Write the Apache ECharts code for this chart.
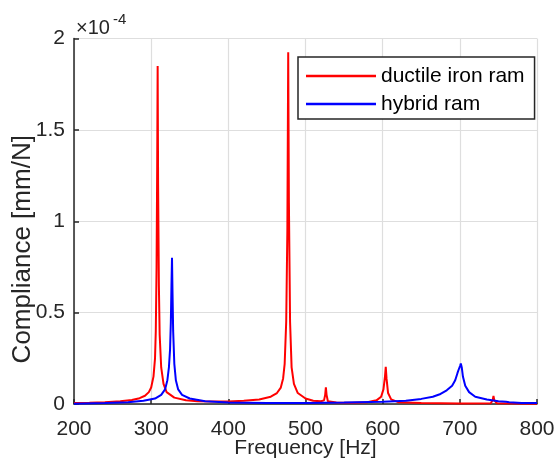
<!DOCTYPE html>
<html>
<head>
<meta charset="utf-8">
<script src="https://cdn.jsdelivr.net/npm/echarts@6/dist/echarts.min.js"></script>
<style>
html,body{margin:0;padding:0;background:#fff;}
#c{width:556px;height:466px;}
</style>
</head>
<body>
<div id="c"></div>
<script>
// Values in units of 1e-4 mm/N
var seriesNames = ['ductile iron ram', 'hybrid ram'];
var xTicks = [200, 300, 400, 500, 600, 700, 800];
var yTicks = [0, 0.5, 1, 1.5, 2];

var redFreq = [200,220,240,260,275,285,292,297,300,303,305,306,307,307.8,308.4,309,310,311,313,316,320,330,345,360,380,400,420,440,455,463,468,471,473,475,476.5,477.6,478.5,480,482,485,490,500,510,520,524,525.5,526.4,527.3,529,540,560,580,592,598,601,603,604,605,607,611,620,650,700,740,742.5,743.6,744.7,748,800];
var redVal  = [0.005,0.007,0.010,0.015,0.022,0.032,0.045,0.065,0.09,0.15,0.25,0.40,0.75,1.30,1.85,1.20,0.65,0.38,0.20,0.11,0.065,0.035,0.02,0.015,0.013,0.014,0.018,0.025,0.04,0.06,0.09,0.14,0.22,0.45,0.95,1.925,1.10,0.45,0.20,0.11,0.06,0.03,0.018,0.015,0.02,0.05,0.091,0.05,0.015,0.008,0.007,0.01,0.02,0.04,0.08,0.15,0.204,0.14,0.06,0.025,0.01,0.005,0.003,0.004,0.02,0.044,0.02,0.004,0.002];

var blueFreq = [200,240,270,290,305,313,318,321,323,324.5,325.5,326.3,327,327.7,328.5,330,332,335,340,350,370,400,450,500,550,600,630,650,665,675,683,690,694,697,698.3,699.5,700.5,701.3,702.5,704,707,712,720,735,750,760,762,764,780,800];
var blueVal  = [0.002,0.005,0.01,0.018,0.03,0.05,0.08,0.13,0.2,0.3,0.45,0.65,0.80,0.60,0.40,0.22,0.13,0.08,0.05,0.03,0.015,0.008,0.006,0.006,0.008,0.012,0.018,0.028,0.04,0.055,0.075,0.10,0.13,0.17,0.186,0.18,0.21,0.222,0.20,0.15,0.10,0.065,0.04,0.025,0.015,0.012,0.016,0.01,0.006,0.005];

function zip(a, b) { return a.map(function (v, i) { return [v, b[i]]; }); }

var FONT = "'Liberation Sans', Arial, Helvetica, sans-serif";
var TXT = '#262626';

var chart = echarts.init(document.getElementById('c'), null, {renderer: 'canvas'});
chart.setOption({
  animation: false,
  backgroundColor: '#ffffff',
  grid: {left: 74, right: 19, top: 38.5, bottom: 62, containLabel: false, outerBoundsMode: 'none'},
  xAxis: {
    type: 'value', min: xTicks[0], max: xTicks[xTicks.length - 1], interval: 100,
    name: 'Frequency [Hz]', nameLocation: 'middle', nameGap: 34, nameMoveOverlap: false,
    nameTextStyle: {fontFamily: FONT, fontSize: 21, color: TXT},
    axisLine: {show: true, onZero: false, lineStyle: {color: TXT, width: 1.5}},
    axisTick: {show: true, inside: true, length: 5, lineStyle: {color: TXT, width: 1.5}},
    axisLabel: {fontFamily: FONT, fontSize: 21, color: TXT, margin: 15},
    splitLine: {show: true, lineStyle: {color: '#dedede', width: 1.2}}
  },
  yAxis: {
    type: 'value', min: yTicks[0], max: yTicks[yTicks.length - 1], interval: 0.5,
    name: 'Compliance [mm/N]', nameLocation: 'middle', nameGap: 38, nameRotate: 90, nameMoveOverlap: false,
    nameTextStyle: {fontFamily: FONT, fontSize: 26, color: TXT, padding: [0, 56, 0, 0]},
    axisLine: {show: true, lineStyle: {color: TXT, width: 1.5}},
    axisTick: {show: true, inside: true, length: 5, lineStyle: {color: TXT, width: 1.5}},
    axisLabel: {fontFamily: FONT, fontSize: 21, color: TXT, margin: 9,
      formatter: function (v) { return String(v); }},
    splitLine: {show: true, lineStyle: {color: '#dedede', width: 1.2}}
  },
  legend: {
    orient: 'vertical', left: 298, top: 57,
    data: seriesNames,
    icon: 'rect', itemWidth: 70, itemHeight: 2.5, itemGap: 2,
    padding: [6, 10, 2, 8],
    borderColor: TXT, borderWidth: 1.5, backgroundColor: '#ffffff',
    textStyle: {fontFamily: FONT, fontSize: 21, color: '#000', lineHeight: 26}
  },
  graphic: [
    {type: 'text', left: 76, top: 18, style: {text: '×10', fontFamily: FONT, fontSize: 20, fill: TXT}},
    {type: 'text', left: 113, top: 12, style: {text: '-4', fontFamily: FONT, fontSize: 15, fill: TXT}}
  ],
  series: [
    {name: seriesNames[0], type: 'line', data: zip(redFreq, redVal), showSymbol: false,
      lineStyle: {color: '#ff0000', width: 2}, itemStyle: {color: '#ff0000'}, clip: true},
    {name: seriesNames[1], type: 'line', data: zip(blueFreq, blueVal), showSymbol: false,
      lineStyle: {color: '#0000ff', width: 2}, itemStyle: {color: '#0000ff'}, clip: true}
  ]
});
</script>
</body>
</html>
